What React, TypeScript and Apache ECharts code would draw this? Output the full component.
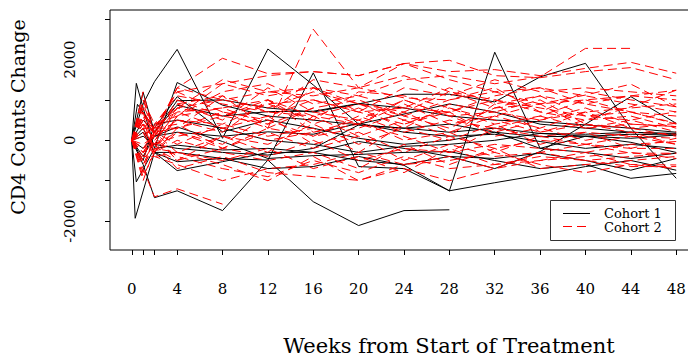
import React, { useEffect, useRef } from "react";
import * as echarts from "echarts";

const N = null;
const WEEKS = [0, 1, 2, 4, 8, 12, 16, 20, 24, 28, 32, 36, 40, 44, 48];
const X_TICKS = [0, 1, 2, 4, 8, 12, 16, 20, 24, 28, 32, 36, 40, 44, 48];
const X_LABELS = [0, 4, 8, 12, 16, 20, 24, 28, 32, 36, 40, 44, 48];
const Y_TICKS = [-2000, -1000, 0, 1000, 2000, 3000];
const Y_LABELS = [-2000, 0, 2000];

// second visit week for each Cohort 1 subject (some were seen a few days after baseline)
const COHORT1_SECOND_WEEK = [1, 1, 1, 1, 0.3, 0.4, 0.5, 0.4, 1, 1, 1, 1, 1, 1];
const COHORT1 = [
  [0, -600, -1420, -1250, -1740, -490, -1520, -2110, -1740, -1720, N, N, N, N, N],
  [0, 900, 1450, 2250, 50, 2260, 1370, 400, 650, 900, 700, 400, 300, 200, 150],
  [0, 300, -300, -530, -450, -490, 1670, -650, -700, -1250, 2180, -200, 100, -50, -300],
  [0, 1190, 200, 980, 1000, 800, 700, 900, 1140, 1140, 950, 1570, 1905, 300, -940],
  [0, -1930, -300, -750, -530, -300, -300, -30, -200, -400, -700, -280, 400, 1080, 420],
  [0, 1410, -200, 1430, 870, 600, 500, 380, 300, 200, 300, 170, 150, 200, 170],
  [0, 890, 300, 1080, 210, 500, 300, 50, -100, 0, 200, 90, 100, 150, 130],
  [0, -1030, -200, -120, -240, -200, -300, -500, -600, -400, -450, -320, -500, -740, -450],
  [0, -400, 100, 330, -30, -450, -380, -350, -300, -280, -500, -700, -600, -940, -820],
  [0, 200, -300, -300, -450, -700, -650, -400, -620, -1250, -1050, -860, -650, -500, -740],
  [0, 500, 200, 870, 600, 710, 720, 910, 800, 600, 500, 460, 380, 300, 200],
  [0, -200, 100, 200, 100, 210, 150, 420, 200, 100, 150, -30, -200, -100, -200],
  [0, 100, -100, -200, -300, -365, -200, 380, 300, 400, 200, -200, -300, -450, -320],
  [0, -500, 400, 500, 300, 0, -100, -300, -150, -100, 0, 170, 100, 50, 130],
];

const COHORT2 = [
  [0, 400, 200, 900, 1100, 300, 2750, 1300, 1050, 1000, 1200, 900, 1000, 1100, 1000],
  [0, -300, -100, 800, 1000, 1200, 1300, 1100, 1500, 1600, 1400, 1570, 2275, 2275, N],
  [0, 600, 300, 1200, 1400, 1600, 1700, 1600, 1900, 1700, 1750, 1600, 1780, 1930, 1660],
  [0, -500, 400, 1100, 900, 700, 1500, 1300, 1600, 1200, 800, 900, 1120, 1390, 830],
  [0, 300, -200, 600, 800, 1000, 600, 900, 500, 700, 1000, 700, 500, 830, 1240],
  [0, 800, 100, 1300, 2030, 1650, 1700, 1600, 1900, 1500, 1200, 1300, 1100, 900, 700],
  [0, -700, -1400, -1200, -1580, N, N, N, N, N, N, N, N, N, N],
  [0, 500, 300, 800, 1500, 1200, 1100, 1300, 1900, 1980, 1600, 1550, 1700, 1800, 1500],
  [0, -200, 0, 500, 400, 900, 1000, 700, 800, 1300, 900, 1100, 600, 700, 420],
  [0, 700, -300, 300, 600, 400, 800, 400, 1000, 600, 700, 500, 800, 400, 340],
  [0, -900, -300, 200, -200, 300, 100, 600, 200, 500, 300, 600, 300, 500, 210],
  [0, 1000, 200, -300, 100, -100, 400, -100, 300, 0, 400, -100, 200, 100, 50],
  [0, -400, -400, -600, -1000, -700, -600, -300, -600, -500, -300, -600, -800, -600, -610],
  [0, 300, 300, 400, -200, -400, 0, -500, -200, -300, -100, -200, -300, -100, -30],
  [0, 600, 400, 700, 300, 600, 1000, 700, 400, 800, 500, 200, 400, 300, 420],
  [0, -600, 0, -400, -700, -900, -500, -800, -400, -700, -600, -400, -500, -650, -650],
  [0, 200, -100, 100, 300, 0, 200, 500, 0, 200, -300, 100, -100, -200, -200],
  [0, 900, 200, 1300, 1000, 800, 1200, 900, 700, 1200, 1000, 800, 600, 500, 710],
  [0, -300, 100, -500, -200, 200, -200, 100, -500, -100, -400, -300, -100, -320, -320],
  [0, 500, -300, 600, 1200, 1400, 900, 1100, 800, 700, 1100, 1300, 900, 1100, 1240],
  [0, -800, 200, 900, 500, 1300, 700, 500, 1000, 600, 200, 500, 700, 300, 100],
  [0, 100, 300, 300, 700, 500, 100, 300, 700, 200, 600, 300, 0, 200, -100],
  [0, -1000, -200, -300, -500, -200, -700, -400, -800, -200, -600, -500, -400, -300, -450],
  [0, 700, 100, 1000, 600, 900, 500, 1200, 1100, 800, 400, 600, 1000, 700, 600],
  [0, 400, -300, 0, -300, -500, -300, -700, -100, -600, -200, -700, -600, -500, -400],
  [0, -300, 200, 300, 1100, 700, 600, 100, 500, 100, 900, 200, 500, 600, 300],
  [0, 1200, 100, 500, 200, 1000, 400, 800, 300, 900, 700, 1000, 400, 200, 150],
  [0, -500, -100, -700, -400, -800, -900, -990, -700, -1000, -700, -500, -300, -600, -700],
  [0, 300, 300, 1200, 700, 300, 800, 1000, 600, 300, 800, 1100, 900, 700, 400],
  [0, -200, 200, -100, 400, 100, 300, -300, 400, 700, 100, 300, 700, 800, 900],
  [0, 600, -100, 200, -100, 600, -100, 200, -300, 100, -200, 0, -100, 100, -100],
  [0, -600, -200, -500, 100, -300, 600, 400, 100, -300, 300, 100, 200, -200, 50],
  [0, 1000, 400, 600, 1400, 1100, 1300, 700, 1300, 1100, 1500, 1200, 1300, 1200, 1100],
  [0, 200, -400, -300, -600, -1000, -400, -1000, -600, -400, -700, -300, -500, -400, -320],
  [0, -100, 100, 800, 600, 1000, 200, 400, 900, 400, 600, 900, 300, 400, 340],
  [0, 400, 0, 700, 800, 400, 1300, 900, 600, 1000, 1300, 700, 1200, 1000, 830],
];

const FONT = "DejaVu Serif";

function mkSeries(vals: (number | null)[], secondWeek: number, color: string, dashed: boolean, name: string) {
  return {
    type: "line",
    name,
    data: WEEKS.map((w, i) => [i === 1 ? secondWeek : w, vals[i]]).filter((p) => p[1] !== null),
    symbol: "none",
    showSymbol: false,
    silent: true,
    animation: false,
    lineStyle: { color, width: 1, type: dashed ? [9, 5] : "solid" },
  };
}

export default function App() {
  const ref = useRef<HTMLDivElement>(null);
  useEffect(() => {
    if (!ref.current) return;
    const chart = echarts.init(ref.current, undefined, { renderer: "svg" });
    const series: any[] = [];
    COHORT1.forEach((v, j) => series.push(mkSeries(v, COHORT1_SECOND_WEEK[j], "#000000", false, "Cohort 1")));
    COHORT2.forEach((v) => series.push(mkSeries(v, WEEKS[1], "#ff0000", true, "Cohort 2")));
    chart.setOption({
      animation: false,
      backgroundColor: "#ffffff",
      grid: {
        left: 110,
        top: 10,
        width: 588,
        height: 240,
        show: true,
        borderColor: "#000",
        borderWidth: 1,
        containLabel: false,
        outerBoundsMode: "none",
      },
      xAxis: {
        type: "value",
        min: -1.92,
        max: 49.92,
        axisLine: { show: false, onZero: false },
        splitLine: { show: false },
        axisTick: { show: true, length: 5, lineStyle: { color: "#000" }, customValues: X_TICKS },
        axisLabel: {
          customValues: X_LABELS,
          formatter: (v: number) => String(v),
          margin: 31,
          color: "#000",
          fontFamily: FONT,
          fontSize: 15,
        },
      },
      yAxis: {
        type: "value",
        min: -2715,
        max: 3225,
        axisLine: { show: false, onZero: false },
        splitLine: { show: false },
        axisTick: { show: true, length: 5, lineStyle: { color: "#000" }, customValues: Y_TICKS },
        axisLabel: {
          customValues: Y_LABELS,
          formatter: (v: number) => String(v),
          rotate: 90,
          margin: 33,
          color: "#000",
          fontFamily: FONT,
          fontSize: 15,
        },
      },
      series,
      graphic: [
        {
          type: "text",
          x: 18,
          y: 117,
          rotation: Math.PI / 2,
          style: {
            text: "CD4 Counts Change",
            fontFamily: FONT,
            fontSize: 19,
            fill: "#000",
            align: "center",
            verticalAlign: "middle",
          },
        },
        {
          type: "text",
          x: 449,
          y: 346,
          style: {
            text: "Weeks from Start of Treatment",
            fontFamily: FONT,
            fontSize: 21,
            fill: "#000",
            align: "center",
            verticalAlign: "middle",
          },
        },
        {
          type: "rect",
          shape: { x: 550.5, y: 200.5, width: 125, height: 40 },
          style: { fill: "#fff", stroke: "#333", lineWidth: 1 },
          z: 100,
        },
        {
          type: "line",
          shape: { x1: 563, y1: 213.5, x2: 590, y2: 213.5 },
          style: { stroke: "#000", lineWidth: 1 },
          z: 101,
        },
        {
          type: "line",
          shape: { x1: 563, y1: 226.5, x2: 590, y2: 226.5 },
          style: { stroke: "#ff0000", lineWidth: 1, lineDash: [9, 5] },
          z: 101,
        },
        {
          type: "text",
          x: 604,
          y: 213,
          style: { text: "Cohort 1", fontFamily: FONT, fontSize: 13, fill: "#000", verticalAlign: "middle" },
          z: 101,
        },
        {
          type: "text",
          x: 604,
          y: 227,
          style: { text: "Cohort 2", fontFamily: FONT, fontSize: 13, fill: "#000", verticalAlign: "middle" },
          z: 101,
        },
      ],
    });
    return () => chart.dispose();
  }, []);
  return (
    <div
      ref={ref}
      style={{ position: "fixed", left: 0, top: 0, width: 688, height: 358, background: "#fff" }}
    />
  );
}
